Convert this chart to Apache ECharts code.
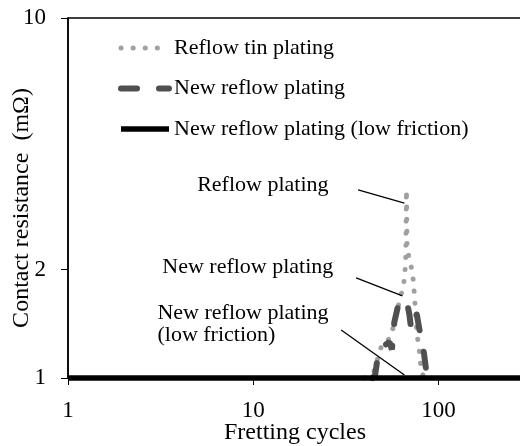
<!DOCTYPE html>
<html><head><meta charset="utf-8">
<script src="https://cdn.jsdelivr.net/npm/echarts@6/dist/echarts.min.js"></script>
<style>html,body{margin:0;padding:0;background:#fff}#c{width:520px;height:446px}</style>
</head><body><div id="c"></div>
<script>
// ---- data ----
const seriesNames = ['Reflow tin plating', 'New reflow plating', 'New reflow plating (low friction)'];
// [fretting cycles, contact resistance (mΩ)]
const reflowTin = [[40,1],[44.4,1.03],[49.7,1.25],[54.9,1.29],[57,1.39],[62.2,1.68],[64.6,1.79],[65.5,1.93],[66.5,2.1],[67.1,3.33],[67.6,2.3],[70,2.1],[72.3,1.98],[74.1,1.70],[76,1.36],[78.9,1.18],[80.9,1.03],[85,1]];
const newReflow = [[44,1],[45.5,1.02],[47.3,1.18],[50,1.22],[54.3,1.26],[56,1.2],[57.7,1.43],[60.7,1.6],[67.1,1.65],[69.6,1.5],[71,1.38],[74,1.5],[76,1.52],[78.9,1.36],[82.9,1.2],[86.1,1.03],[88,1]];
const newReflowLowFriction = [[1,1],[10,1],[100,1],[282,1]];
const xTicks = [1, 10, 100];
const yTicks = [1, 2, 10];
const xRange = [1, 282];
const yRange = [1, 10];
const xTitle = 'Fretting cycles';
const yTitle = 'Contact resistance  (mΩ)';
// annotation labels and leader lines (data coordinates)
const annotationTexts = ['Reflow plating', 'New reflow plating', 'New reflow plating\n(low friction)'];
const annotationAnchors = [[11.26, 3.44], [9.34, 2.034], [3.04, 1.413]];
const annotationLines = [[[36.8, 3.33], [65.4, 3.06]], [[35.9, 1.896], [63.8, 1.69]], [[29.8, 1.36], [65.4, 1.019]]];

// ---- styles ----
const FONT = '"Liberation Serif","Times New Roman",serif';
const styles = [
  {color: '#a0a0a0', width: 5, type: [0.1, 12], cap: 'round'},
  {color: '#505050', width: 6, type: [16, 22], cap: 'round'},
  {color: '#000000', width: 5.5, type: 'solid', cap: 'butt'}
];
const annotationAlign = ['center', 'center', 'left'];

const chart = echarts.init(document.getElementById('c'), null, {renderer: 'canvas'});
const datasets = [reflowTin, newReflow, newReflowLowFriction];
const option = {
  animation: false,
  backgroundColor: '#fff',
  textStyle: {fontFamily: FONT},
  grid: {left: 68, right: -2, top: 18, bottom: 68, show: true, borderColor: '#000', borderWidth: 1.5,
         outerBoundsMode: 'none', containLabel: false},
  legend: {
    orient: 'vertical', left: 118, top: 37, padding: 0, itemWidth: 48, itemHeight: 14, itemGap: 18.5,
    selectedMode: false,
    textStyle: {fontFamily: FONT, fontSize: 22, color: '#000'},
    data: seriesNames.map((n, i) => ({name: n, itemStyle: {opacity: 0}, lineStyle: Object.assign({}, styles[i])}))
  },
  xAxis: {
    type: 'log', logBase: 10, min: xRange[0], max: xRange[1],
    name: xTitle, nameLocation: 'middle', nameGap: 43, nameMoveOverlap: false,
    nameTextStyle: {fontFamily: FONT, fontSize: 24, color: '#000'},
    axisLine: {lineStyle: {color: '#000', width: 1.5}},
    axisTick: {length: 7, customValues: xTicks, lineStyle: {color: '#000', width: 1}},
    axisLabel: {customValues: xTicks, fontFamily: FONT, fontSize: 23, color: '#000', margin: 21},
    splitLine: {show: false}, minorTick: {show: false}
  },
  yAxis: {
    type: 'log', logBase: 10, min: yRange[0], max: yRange[1],
    name: yTitle, nameLocation: 'middle', nameGap: 34, nameRotate: 90, nameMoveOverlap: false,
    nameTextStyle: {fontFamily: FONT, fontSize: 24, color: '#000', padding: [0, 20, 0, 0]},
    axisLine: {lineStyle: {color: '#000', width: 1.5}},
    axisTick: {length: 7, customValues: yTicks, lineStyle: {color: '#000', width: 1}},
    axisLabel: {customValues: yTicks, fontFamily: FONT, fontSize: 23, color: '#000', margin: 22},
    splitLine: {show: false}, minorTick: {show: false}
  },
  series: seriesNames.map((n, i) => ({
    name: n, type: 'line', data: datasets[i], symbol: 'none', clip: false,
    lineStyle: Object.assign({}, styles[i]), itemStyle: {color: styles[i].color},
    z: 2 + i
  }))
};
chart.setOption(option);

// annotations positioned via the chart's own coordinate conversion
const graphics = [];
annotationTexts.forEach((t, i) => {
  const p = chart.convertToPixel({gridIndex: 0}, annotationAnchors[i]);
  graphics.push({type: 'text', x: p[0], y: p[1], z: 10,
    style: {text: t, font: '22px ' + FONT, fill: '#000', align: annotationAlign[i], verticalAlign: 'middle', lineHeight: 22}});
  const a = chart.convertToPixel({gridIndex: 0}, annotationLines[i][0]);
  const b = chart.convertToPixel({gridIndex: 0}, annotationLines[i][1]);
  graphics.push({type: 'line', z: 10, shape: {x1: a[0], y1: a[1], x2: b[0], y2: b[1]}, style: {stroke: '#000', lineWidth: 1.3}});
});
chart.setOption({graphic: graphics});
</script></body></html>
